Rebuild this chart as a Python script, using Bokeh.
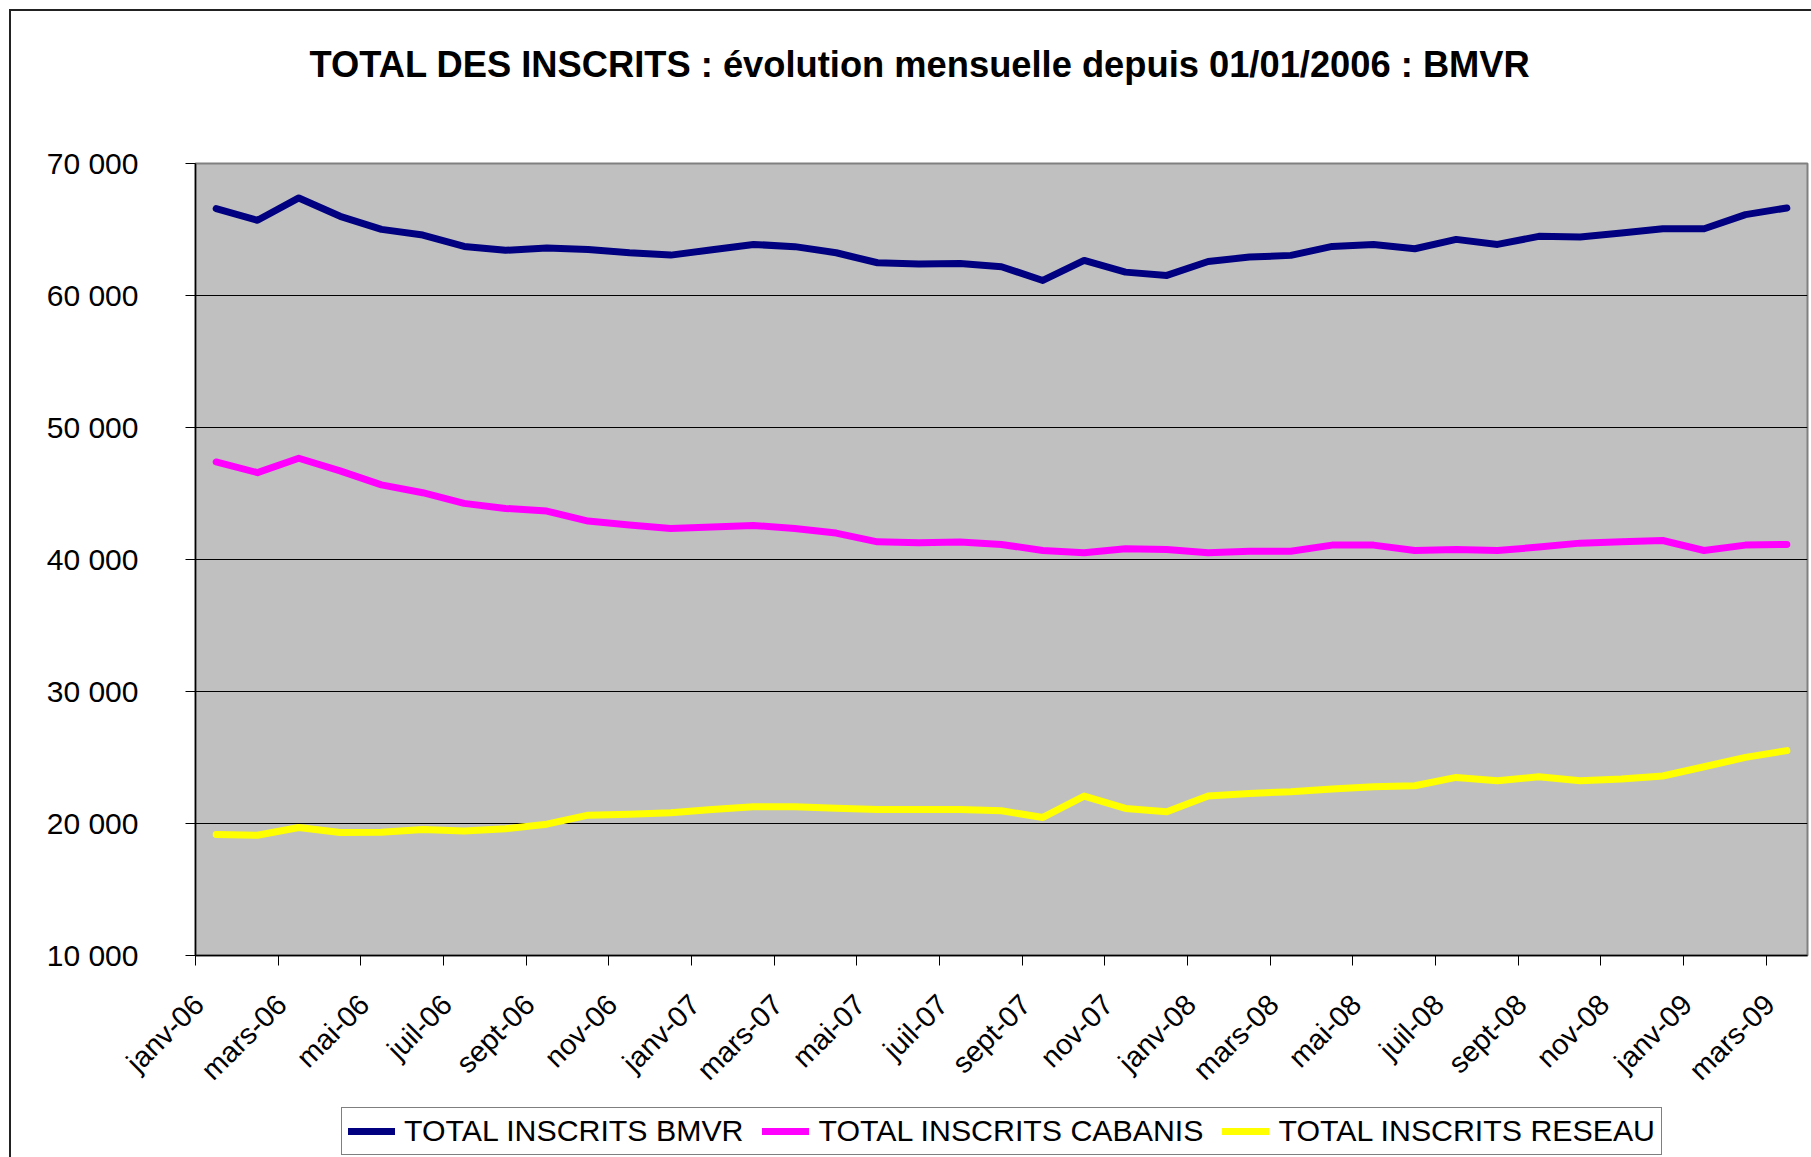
import math
from bokeh.plotting import figure
from bokeh.layouts import column
from bokeh.models import Range1d, FixedTicker, Legend, LegendItem
from bokeh.embed import file_html
from bokeh.resources import INLINE

months = ["janv-06", "févr-06", "mars-06", "avr-06", "mai-06", "juin-06", "juil-06", "août-06",
          "sept-06", "oct-06", "nov-06", "déc-06",
          "janv-07", "févr-07", "mars-07", "avr-07", "mai-07", "juin-07", "juil-07", "août-07",
          "sept-07", "oct-07", "nov-07", "déc-07",
          "janv-08", "févr-08", "mars-08", "avr-08", "mai-08", "juin-08", "juil-08", "août-08",
          "sept-08", "oct-08", "nov-08", "déc-08",
          "janv-09", "févr-09", "mars-09"]

bmvr = [66580, 65700, 67390, 66000, 65010, 64580, 63720, 63420, 63600, 63490, 63240, 63060,
        63470, 63870, 63700, 63240, 62480, 62380, 62430, 62180, 61140, 62660, 61770, 61520,
        62580, 62910, 63040, 63720, 63870, 63540, 64250, 63870, 64480, 64430, 64730, 65060,
        65060, 66130, 66630]
cabanis = [47390, 46580, 47670, 46710, 45650, 45060, 44250, 43870, 43670, 42910, 42610, 42350,
           42460, 42580, 42350, 42000, 41340, 41270, 41320, 41140, 40680, 40510, 40810, 40760,
           40510, 40630, 40630, 41090, 41090, 40680, 40760, 40680, 40940, 41240, 41340, 41440,
           40680, 41090, 41140]
reseau = [19165, 19110, 19700, 19320, 19340, 19540, 19440, 19600, 19950, 20630, 20710, 20810,
          21060, 21270, 21270, 21160, 21060, 21060, 21060, 20960, 20460, 22080, 21140, 20890,
          22080, 22280, 22400, 22610, 22780, 22860, 23490, 23240, 23540, 23240, 23370, 23600,
          24300, 25010, 25520]

series_names = ["TOTAL INSCRITS BMVR", "TOTAL INSCRITS CABANIS", "TOTAL INSCRITS RESEAU"]
series_colors = ["#000080", "#FF00FF", "#FFFF00"]
series_values = [bmvr, cabanis, reseau]

y_ticks = [10000, 20000, 30000, 40000, 50000, 60000, 70000]
y_tick_labels = ["10 000", "20 000", "30 000", "40 000", "50 000", "60 000", "70 000"]

title_text = "TOTAL DES INSCRITS : évolution mensuelle depuis 01/01/2006 : BMVR"

FONT = "Liberation Sans"
W = 1811
n = len(months)
xs = list(range(n))
LW = 7

# ---------- title strip (frames of the column are aligned with the main chart) ----------
p_top = figure(width=W, height=110, output_backend="svg", toolbar_location=None,
               x_range=Range1d(0, 1), y_range=Range1d(0, 1),
               x_axis_location=None, y_axis_location=None,
               min_border_left=195, min_border_right=4, min_border_top=94, min_border_bottom=0)
p_top.background_fill_alpha = 0
p_top.border_fill_alpha = 0
p_top.outline_line_color = None
p_top.grid.visible = False
p_top.title.text = title_text
p_top.title.text_font = FONT
p_top.title.text_font_size = "36.3px"
p_top.title.text_font_style = "bold"
p_top.title.text_color = "black"
p_top.title.align = "left"
p_top.title.offset = 114
p_top.title.standoff = 20

# ---------- main chart ----------
p = figure(width=W, height=995, output_backend="svg", toolbar_location=None,
           x_range=Range1d(-0.5, n - 0.5), y_range=Range1d(y_ticks[0], y_ticks[-1]),
           min_border_left=195, min_border_right=4, min_border_top=53, min_border_bottom=150)
p.background_fill_color = "#C0C0C0"
p.border_fill_alpha = 0
p.outline_line_color = "#808080"
p.outline_line_width = 2

ya = p.yaxis[0]
ya.ticker = FixedTicker(ticks=y_ticks)
ya.major_label_overrides = {t: l for t, l in zip(y_ticks, y_tick_labels)}
ya.major_label_text_font = FONT
ya.major_label_text_font_size = "30px"
ya.major_label_text_color = "black"
ya.major_label_standoff = 47
ya.major_tick_out = 10
ya.major_tick_in = 0
ya.minor_tick_out = 0
ya.minor_tick_in = 0
ya.axis_line_color = "black"
ya.axis_line_width = 1.5
ya.major_tick_line_color = "black"

# x axis: a label every 2 months, tick marks on category boundaries
xa = p.xaxis[0]
label_idx = xs[::2]
label_pos = [i - 0.42 for i in label_idx]
xa.ticker = FixedTicker(ticks=label_pos, minor_ticks=[i - 0.5 for i in label_idx if i - 0.5 < n - 1])
xa.major_label_overrides = {pos: months[i] for pos, i in zip(label_pos, label_idx)}
xa.major_label_orientation = math.pi / 4
xa.major_label_text_font = FONT
xa.major_label_text_font_size = "29px"
xa.major_label_text_color = "black"
xa.major_label_standoff = 34
xa.major_tick_out = 0
xa.major_tick_in = 0
xa.minor_tick_out = 10
xa.minor_tick_in = 0
xa.minor_tick_line_color = "black"
xa.axis_line_color = "black"
xa.axis_line_width = 1.5

p.xgrid.visible = False
p.ygrid.ticker = FixedTicker(ticks=y_ticks[1:-1])
p.ygrid.grid_line_color = "black"
p.ygrid.grid_line_width = 1

for vals, col in zip(series_values, series_colors):
    p.line(xs, vals, line_color=col, line_width=LW, line_join="round", line_cap="round")

# ---------- legend strip ----------
p_leg = figure(width=W, height=52, output_backend="svg", toolbar_location=None,
               x_range=Range1d(0, 1), y_range=Range1d(0, 1),
               x_axis_location=None, y_axis_location=None,
               min_border_left=195, min_border_right=4, min_border_top=0, min_border_bottom=0)
p_leg.background_fill_alpha = 0
p_leg.border_fill_alpha = 0
p_leg.outline_line_color = None
p_leg.grid.visible = False
# legend keys: same series, outside this strip's visible range (only their legend swatches show)
keys = [p_leg.line(xs, vals, line_color=col, line_width=LW, line_cap="round")
        for vals, col in zip(series_values, series_colors)]

legend = Legend(items=[LegendItem(label=nm, renderers=[r]) for nm, r in zip(series_names, keys)],
                orientation="horizontal", location=(146, 2))
legend.label_text_font = FONT
legend.label_text_font_size = "30.3px"
legend.label_text_color = "black"
legend.glyph_width = 47
legend.glyph_height = 30
legend.label_standoff = 9
legend.spacing = 19
legend.padding = 6
legend.margin = 0
legend.border_line_color = "black"
legend.border_line_width = 1.5
legend.background_fill_color = "white"
legend.background_fill_alpha = 1
p_leg.add_layout(legend, "center")

layout = column(p_top, p, p_leg, spacing=0)
layout.styles = {
    "background-color": "white",
    "background-image": "linear-gradient(#222,#222), linear-gradient(#222,#222)",
    "background-size": "2px 100%, 100% 2px",
    "background-position": "9px 9px, 9px 9px",
    "background-repeat": "no-repeat",
}

open("out.html", "w").write(file_html(layout, INLINE))
